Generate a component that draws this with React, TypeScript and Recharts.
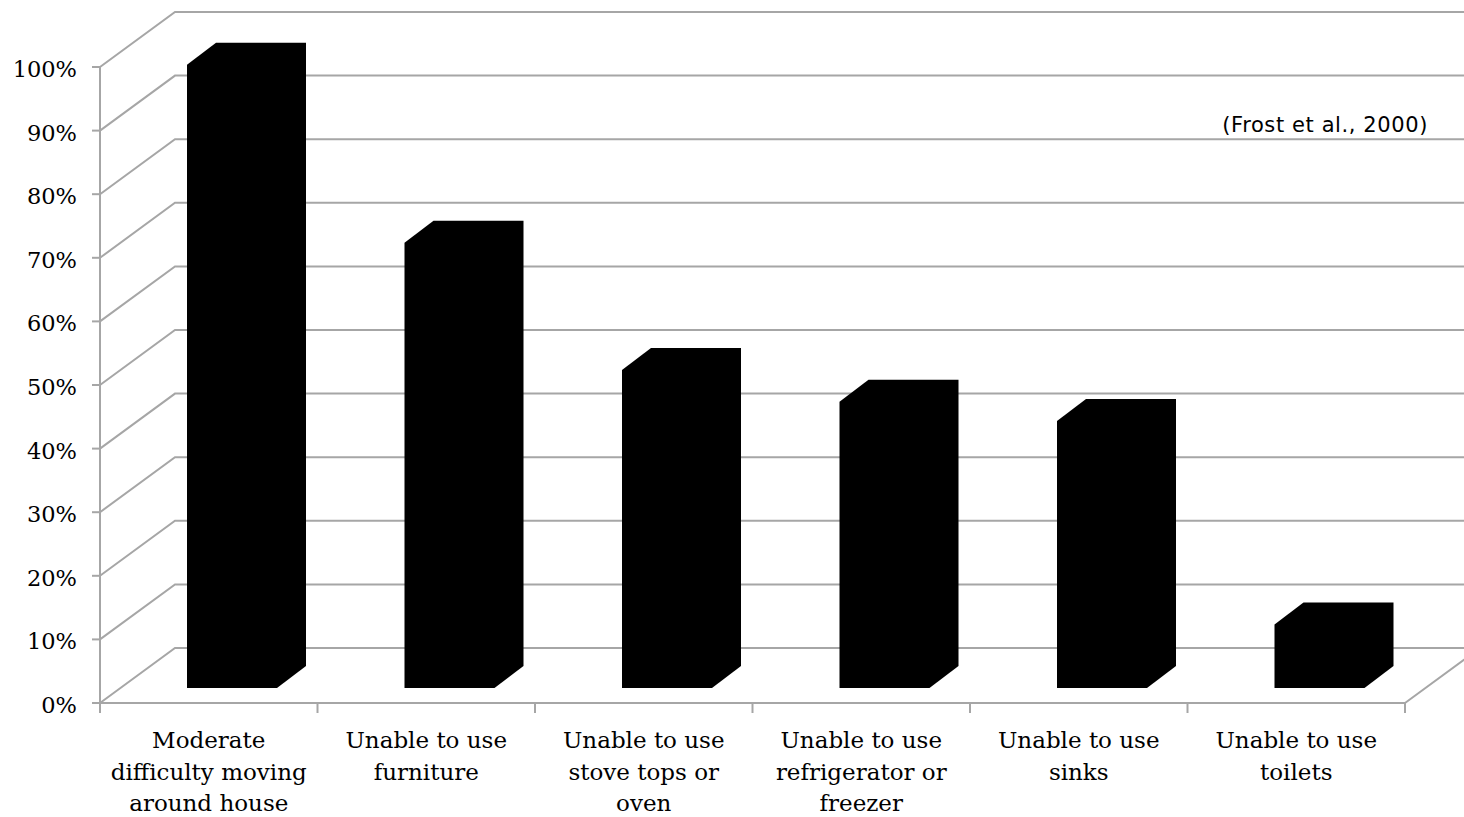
import React from "react";
import { BarChart, Bar, XAxis, YAxis, CartesianGrid } from "recharts";

const categoryLines = [
  ["Moderate", "difficulty moving", "around house"],
  ["Unable to use", "furniture"],
  ["Unable to use", "stove tops or", "oven"],
  ["Unable to use", "refrigerator or", "freezer"],
  ["Unable to use", "sinks"],
  ["Unable to use", "toilets"],
];
const categories = categoryLines.map((l) => l.join(" "));
const percentages = [98, 70, 50, 45, 42, 10];
const yTicks = [0, 10, 20, 30, 40, 50, 60, 70, 80, 90, 100];
const boundaryTicks = [0, 1, 2, 3, 4, 5, 6];
const source = "(Frost et al., 2000)";

const data = categories.map((name, i) => ({ name, idx: i, value: percentages[i] }));

const GRID = "#a6a6a6";
const DEPTH_X = 75;
const DEPTH_Y = -55;
const SERIF = "'DejaVu Serif', Georgia, serif";

// 3D column: front face shifted into the middle of the floor depth, plus top and side
const Column3D = (props: any) => {
  const { x, y, width, height } = props;
  if (height == null || height <= 0) return null;
  const fx = x + 23;
  const bottom = y + height - 15;
  const top = bottom - height;
  const sx = 29;
  const sy = -22;
  const d = `M${fx},${top} L${fx + sx},${top + sy} L${fx + width + sx},${top + sy} L${fx + width + sx},${bottom + sy} L${fx + width},${bottom} L${fx},${bottom} Z`;
  return <path d={d} fill="#000" />;
};

const gridLine = (props: any) => {
  const { x1, y1, x2, index } = props;
  const bx = x1 + DEPTH_X;
  const by = y1 + DEPTH_Y;
  let d = `M${x1},${y1} L${bx},${by} L${x2 + DEPTH_X + 100},${by}`;
  const isFloor = props.y != null && props.height != null && Math.abs(y1 - (props.y + props.height)) < 0.5;
  if (isFloor) d += ` M${x2},${y1} L${x2 + DEPTH_X},${by}`;
  return <path key={`g-${index}-${y1}`} d={d} stroke={GRID} strokeWidth={2} fill="none" />;
};

const YTick = (props: any) => {
  const { x, y, payload } = props;
  return (
    <text x={x} y={y} dy={10} textAnchor="end" fontFamily={SERIF} fontSize={22.5} fill="#000">
      {`${payload.value}%`}
    </text>
  );
};

const XTick = (props: any) => {
  const { x, y, payload } = props;
  const lines = categoryLines[payload.index] ?? [String(payload.value)];
  return (
    <text textAnchor="middle" fontFamily={SERIF} fontSize={23} fill="#000">
      {lines.map((l, i) => (
        <tspan key={i} x={x} y={y + 44 + i * 31.5}>
          {l}
        </tspan>
      ))}
    </text>
  );
};

const NoLabel = () => <g />;

export default function App() {
  return (
    <div style={{ position: "absolute", left: 0, top: 0, width: 1464, height: 817, background: "#fff" }}>
      <BarChart width={1464} height={817} data={data} margin={{ top: 67, right: 59, left: 0, bottom: 0 }}>
        <CartesianGrid vertical={false} horizontal={gridLine} xAxisId="b_cat" />
        <XAxis
          xAxisId="b_cat"
          dataKey="name"
          height={113}
          interval={0}
          tickLine={false}
          axisLine={false}
          tickSize={0}
          tickMargin={0}
          tick={<XTick />}
        />
        <XAxis
          xAxisId="a_bound"
          type="number"
          dataKey="idx"
          domain={[0, 6]}
          ticks={boundaryTicks}
          interval={0}
          allowDataOverflow
          height={1}
          tick={<NoLabel />}
          tickSize={10}
          tickLine={{ stroke: GRID, strokeWidth: 2 }}
          axisLine={{ stroke: GRID, strokeWidth: 2 }}
        />
        <YAxis
          width={100}
          domain={[0, 100]}
          ticks={yTicks}
          interval={0}
          tickSize={8}
          tickMargin={15}
          tickLine={{ stroke: GRID, strokeWidth: 2 }}
          axisLine={{ stroke: GRID, strokeWidth: 2 }}
          tick={<YTick />}
        />
        <Bar xAxisId="b_cat" dataKey="value" barSize={90} fill="#000" shape={<Column3D />} isAnimationActive={false} />
      </BarChart>
      <div
        style={{
          position: "absolute",
          right: 1464 - 1428,
          top: 111,
          fontFamily: "'DejaVu Sans', sans-serif",
          fontSize: 21,
          letterSpacing: 0.6,
          lineHeight: "28px",
          color: "#000",
          whiteSpace: "nowrap",
        }}
      >
        {source}
      </div>
    </div>
  );
}
